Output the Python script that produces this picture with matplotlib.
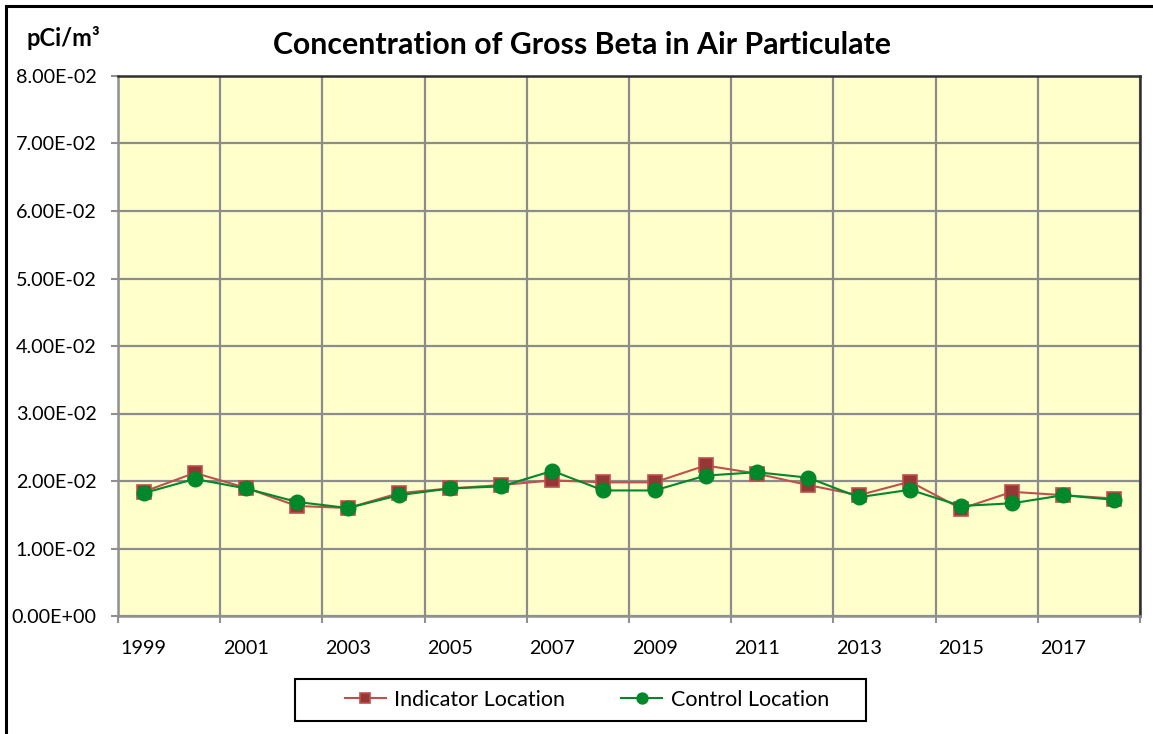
import matplotlib.pyplot as plt
from matplotlib.patches import Rectangle

# data
years = list(range(1999, 2019))
indicator = [1.84e-2, 2.12e-2, 1.90e-2, 1.63e-2, 1.60e-2, 1.82e-2, 1.89e-2, 1.94e-2, 2.01e-2, 1.98e-2,
             1.98e-2, 2.23e-2, 2.11e-2, 1.94e-2, 1.79e-2, 1.99e-2, 1.59e-2, 1.84e-2, 1.79e-2, 1.74e-2]
control = [1.82e-2, 2.03e-2, 1.89e-2, 1.69e-2, 1.60e-2, 1.79e-2, 1.89e-2, 1.92e-2, 2.15e-2, 1.86e-2,
           1.86e-2, 2.08e-2, 2.13e-2, 2.05e-2, 1.76e-2, 1.87e-2, 1.63e-2, 1.67e-2, 1.79e-2, 1.72e-2]
y_ticks = [0, 0.01, 0.02, 0.03, 0.04, 0.05, 0.06, 0.07, 0.08]
y_labels = ['0.00E+00', '1.00E-02', '2.00E-02', '3.00E-02', '4.00E-02',
            '5.00E-02', '6.00E-02', '7.00E-02', '8.00E-02']

plt.rcParams['font.family'] = ['Lato', 'DejaVu Sans']

W, H = 1153, 734
fig = plt.figure(figsize=(W / 100, H / 100), dpi=100)

# outer frame of the chart
fig.patches.append(Rectangle((6 / W, -0.05), 1.2, 1 - 6 / H + 0.05, transform=fig.transFigure,
                             fill=False, edgecolor='black', linewidth=2.2))
# legend frame
fig.patches.append(Rectangle((295 / W, 1 - 721 / H), (866 - 295) / W, 42 / H, transform=fig.transFigure,
                             fill=False, edgecolor='black', linewidth=1.5))

left, right, top, bottom = 118, 1140, 76, 616
ax = fig.add_axes([left / W, (H - bottom) / H, (right - left) / W, (bottom - top) / H])
ax.set_facecolor('#ffffcc')

x = list(range(len(years)))
ax.plot(x, indicator, color='#c0504d', linewidth=1.5, marker='s', markersize=10,
        markerfacecolor='#953735', markeredgecolor='#c0504d', markeredgewidth=1.2,
        label='Indicator Location', zorder=3)
ax.plot(x, control, color='#00882b', linewidth=1.5, marker='o', markersize=10.5,
        markerfacecolor='#00882b', markeredgecolor='#00882b',
        label='Control Location', zorder=4)

ax.set_xlim(-0.5, len(years) - 0.5)
ax.set_ylim(0, 0.08)
ax.set_yticks(y_ticks)
ax.set_yticklabels(y_labels, fontsize=14.2)

grid_pos = [i - 0.5 for i in range(0, len(years) + 1, 2)]
ax.set_xticks(grid_pos)
ax.set_xticklabels([])
ax.set_xticks(x[::2], minor=True)
ax.set_xticklabels([str(y) for y in years[::2]], minor=True, fontsize=14.2)
ax.tick_params(axis='x', which='minor', length=0, pad=17)
ax.tick_params(axis='both', which='major', length=5, color='#909090', width=1.5)
ax.tick_params(axis='y', pad=10.5)

ax.grid(True, which='major', color='#8c8c8c', linewidth=1.6)
ax.set_axisbelow(True)
for side in ['left', 'bottom']:
    ax.spines[side].set_color('#909090')
    ax.spines[side].set_linewidth(1.8)
for side in ['top', 'right']:
    ax.spines[side].set_color('#303030')
    ax.spines[side].set_linewidth(1.8)

fig.text(582 / W, 1 - 45 / H, 'Concentration of Gross Beta in Air Particulate',
         ha='center', va='center', fontsize=21.8, fontweight='bold')
fig.text(63 / W, 1 - 38 / H, 'pCi/m³', ha='center', va='center', fontsize=17, fontweight='bold')

leg = fig.legend(loc='center', bbox_to_anchor=(587 / W, 1 - 700 / H), ncol=2, fontsize=15.5,
                 frameon=False, handlelength=1.9, columnspacing=2.6, handletextpad=0.4,
                 markerscale=0.75)

fig.savefig('out.png', dpi=100)
